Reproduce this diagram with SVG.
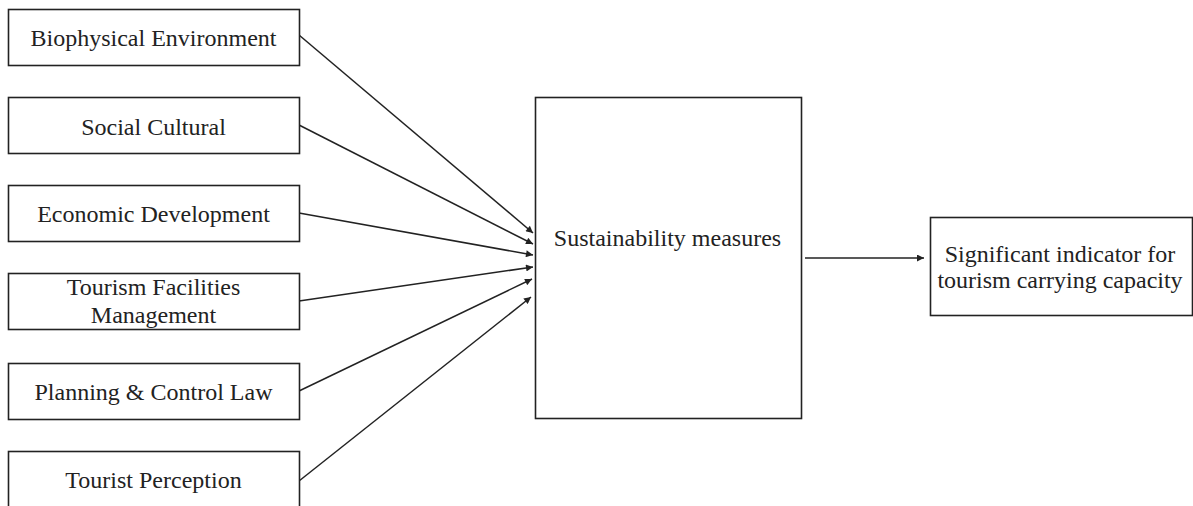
<svg xmlns="http://www.w3.org/2000/svg" width="1193" height="506" viewBox="0 0 1193 506">
<style>
.box{fill:#fff;stroke:#222;stroke-width:1.6}
.lbl{font-family:"Liberation Serif","Times New Roman",serif;font-size:24px;fill:#222;text-anchor:middle}
.conn{stroke:#222;stroke-width:1.5;fill:none;marker-end:url(#ah)}
</style>
<defs>
<marker id="ah" viewBox="0 0 10 10" refX="10" refY="5" markerWidth="9" markerHeight="7" markerUnits="userSpaceOnUse" orient="auto">
<path d="M0,0 L10,5 L0,10 z" fill="#222"/>
</marker>
</defs>
<rect width="1193" height="506" fill="#fff"/>
<g id="connectors">
<line class="conn" x1="299" y1="35" x2="533" y2="233"/>
<line class="conn" x1="299" y1="125" x2="533" y2="244"/>
<line class="conn" x1="299" y1="213" x2="533" y2="255"/>
<line class="conn" x1="299" y1="301" x2="533" y2="267"/>
<line class="conn" x1="299" y1="391" x2="532" y2="279"/>
<line class="conn" x1="299" y1="481" x2="531" y2="297"/>
<line class="conn" x1="805" y1="258" x2="924" y2="258"/>
</g>
<g id="n1"><rect class="box" x="8.5" y="9.5" width="291" height="56"/><text class="lbl" x="153.5" y="45.5">Biophysical Environment</text></g>
<g id="n2"><rect class="box" x="8.5" y="97.5" width="291" height="56"/><text class="lbl" x="153.5" y="134.5">Social Cultural</text></g>
<g id="n3"><rect class="box" x="8.5" y="185.5" width="291" height="56"/><text class="lbl" x="153.5" y="222">Economic Development</text></g>
<g id="n4"><rect class="box" x="8.5" y="273.5" width="291" height="56"/><text class="lbl" x="153.5" y="295">Tourism Facilities</text><text class="lbl" x="153.5" y="323">Management</text></g>
<g id="n5"><rect class="box" x="8.5" y="363.5" width="291" height="56"/><text class="lbl" x="153.5" y="400">Planning &amp; Control Law</text></g>
<g id="n6"><rect class="box" x="8.5" y="451.5" width="291" height="60"/><text class="lbl" x="153.5" y="488">Tourist Perception</text></g>
<g id="center"><rect class="box" x="535.5" y="97.5" width="266" height="321"/><text class="lbl" x="667.5" y="246">Sustainability measures</text></g>
<g id="result"><rect class="box" x="930.5" y="217.5" width="262" height="98"/><text class="lbl" x="1060" y="262">Significant indicator for</text><text class="lbl" x="1060" y="288">tourism carrying capacity</text></g>
</svg>
